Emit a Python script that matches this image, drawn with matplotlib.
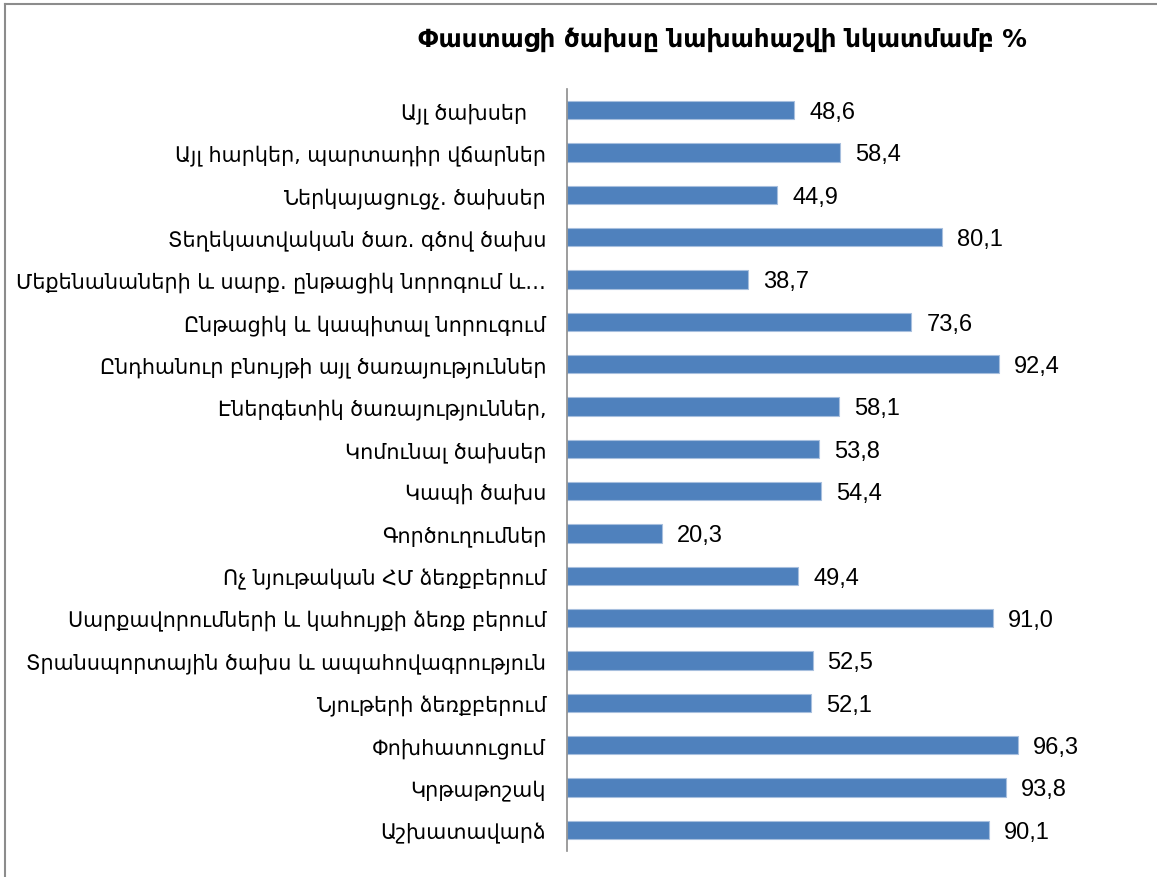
import matplotlib
matplotlib.use("Agg")
import matplotlib.pyplot as plt
from matplotlib.lines import Line2D

categories = [
    "Այլ ծախսեր   ",
    "Այլ հարկեր, պարտադիր վճարներ",
    "Ներկայացուցչ. ծախսեր",
    "Տեղեկատվական ծառ. գծով ծախս",
    "Մեքենանաների և սարք. ընթացիկ նորոգում և…",
    "Ընթացիկ և կապիտալ նորուգում",
    "Ընդհանուր բնույթի այլ ծառայություններ",
    "Էներգետիկ ծառայություններ,",
    "Կոմունալ ծախսեր",
    "Կապի ծախս",
    "Գործուղումներ",
    "Ոչ նյութական ՀՄ ձեռքբերում",
    "Սարքավորումների և կահույքի ձեռք բերում",
    "Տրանսպորտային ծախս և ապահովագրություն",
    "Նյութերի ձեռքբերում",
    "Փոխհատուցում",
    "Կրթաթոշակ",
    "Աշխատավարձ",
]
values = [48.6, 58.4, 44.9, 80.1, 38.7, 73.6, 92.4, 58.1, 53.8, 54.4,
          20.3, 49.4, 91.0, 52.5, 52.1, 96.3, 93.8, 90.1]
title = "Փաստացի ծախսը նախահաշվի նկատմամբ %"

plt.rcParams['font.family'] = ['DejaVu Sans']

fig = plt.figure(figsize=(11.57, 8.78), dpi=100)
ax = fig.add_axes([567/1157, 1 - 852/878, 538/1157, 762/878])

ypos = list(range(len(categories)))
ax.barh(ypos, values, height=0.43, color="#4F81BD", edgecolor="#A7BFDE", linewidth=0.8)
ax.set_ylim(len(categories) - 0.5, -0.5)
ax.set_xlim(0, 115)

ax.set_yticks(ypos)
ax.set_yticklabels(categories, fontsize=14.9, family=['DejaVu Sans'])
ax.tick_params(axis='y', length=0, pad=15)
ax.set_xticks([])
for s in ['top', 'right', 'bottom']:
    ax.spines[s].set_visible(False)
ax.spines['left'].set_color("#8C8C8C")
ax.spines['left'].set_linewidth(1.2)

for y, v in zip(ypos, values):
    ax.annotate(f"{v:.1f}".replace('.', ','), xy=(v, y), xytext=(15, -2),
                textcoords='offset pixels',
                va='center', ha='left', fontsize=17,
                family=['Liberation Sans', 'DejaVu Sans'])

fig.text(722/1157, 1 - 40/878, title, ha='center', va='center', fontsize=17.7,
         family=['DejaVu Sans'], fontweight='bold')

# chart border (left and top)
fig.add_artist(Line2D([5/1157, 5/1157], [0, 1 - 5/878], transform=fig.transFigure,
                      color="#8C8C8C", linewidth=1.5))
fig.add_artist(Line2D([5/1157, 1], [1 - 5/878, 1 - 5/878], transform=fig.transFigure,
                      color="#8C8C8C", linewidth=1.5))

fig.savefig("out.png", dpi=100)
